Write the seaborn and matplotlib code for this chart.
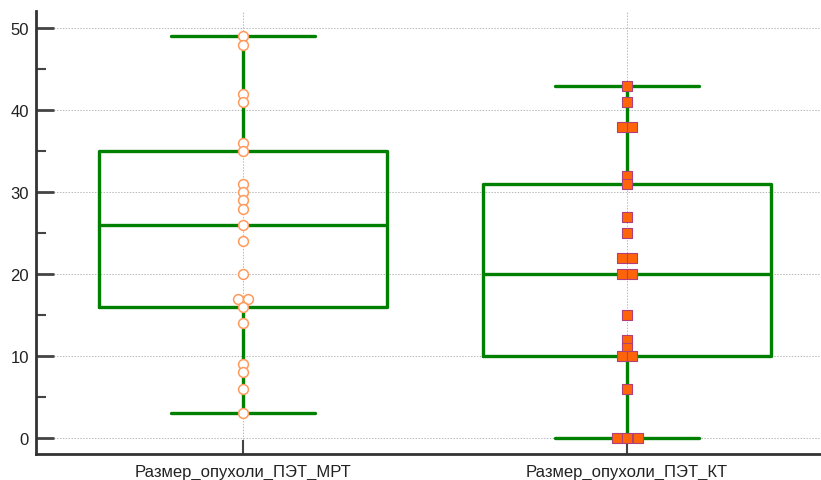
import pandas as pd
import numpy as np
import matplotlib.pyplot as plt
from matplotlib.ticker import MultipleLocator
import seaborn as sns

# category names
categories = ["Размер_опухоли_ПЭТ_МРТ", "Размер_опухоли_ПЭТ_КТ"]

# values
pet_mrt = [49, 48, 42, 41, 36, 35, 31, 30, 29, 28, 26, 24, 20, 17, 17, 16, 14, 9, 8, 6, 3]
pet_kt = [43, 41, 38, 38, 32, 31, 27, 25, 22, 22, 20, 20, 15, 12, 11, 10, 10, 6, 0, 0, 0]

df = pd.DataFrame({
    "group": [categories[0]] * len(pet_mrt) + [categories[1]] * len(pet_kt),
    "value": pet_mrt + pet_kt,
})
df["pos"] = df["group"].map({c: i for i, c in enumerate(categories)})
# equal values sit side by side, others stay on the center line
rank = df.groupby(["group", "value"]).cumcount()
count = df.groupby(["group", "value"])["value"].transform("size")
df["xpos"] = df["pos"] + (rank - (count - 1) / 2) * 0.027

sns.set_style("white")
plt.rcParams['font.family'] = ['Liberation Sans', 'DejaVu Sans']

fig = plt.figure(figsize=(8.21, 4.81), dpi=100)
ax = fig.add_axes([36 / 821, 1 - 455 / 481, 1 - 36 / 821, (455 - 12) / 481])

sns.boxplot(data=df, x="group", y="value", order=categories, ax=ax,
            fill=False, color="#008000", linewidth=2.4, width=0.75,
            whis=(0, 100), showfliers=False, zorder=2)

mrt = df[df["group"] == categories[0]]
kt = df[df["group"] == categories[1]]
ax.scatter(mrt["xpos"], mrt["value"], marker="o", s=50, facecolor="white",
           edgecolor="#ff9a5c", linewidth=1.1, zorder=3)
ax.scatter(kt["xpos"], kt["value"], marker="s", s=50, facecolor="#ff6408",
           edgecolor="#b0407a", linewidth=0.8, zorder=3)

ax.set_xlim(-0.54, 1.505)
ax.set_ylim(-1.95, 52.1)
ax.set_xticks([0, 1])
ax.set_xticklabels(categories)
ax.yaxis.set_major_locator(MultipleLocator(10))
ax.yaxis.set_minor_locator(MultipleLocator(5))

ax.grid(True, which="major", color="#b8b8b8", linestyle=(0, (1.5, 1.5)), linewidth=0.7)
ax.set_axisbelow(True)

for side in ["top", "right"]:
    ax.spines[side].set_visible(False)
for side in ["left", "bottom"]:
    ax.spines[side].set_color("#333333")
    ax.spines[side].set_linewidth(2)

ax.tick_params(axis="y", which="major", direction="in", length=13, width=2,
               color="#444444", labelsize=12, labelcolor="#222222", pad=5, left=True)
ax.tick_params(axis="y", which="minor", direction="in", length=7, width=1.5,
               color="#444444", left=True)
ax.tick_params(axis="x", direction="in", length=10, width=1.5,
               color="#444444", labelsize=12, labelcolor="#222222", pad=7, bottom=True)

ax.set_xlabel("")
ax.set_ylabel("")

fig.savefig("out.png", dpi=100, facecolor="white")
